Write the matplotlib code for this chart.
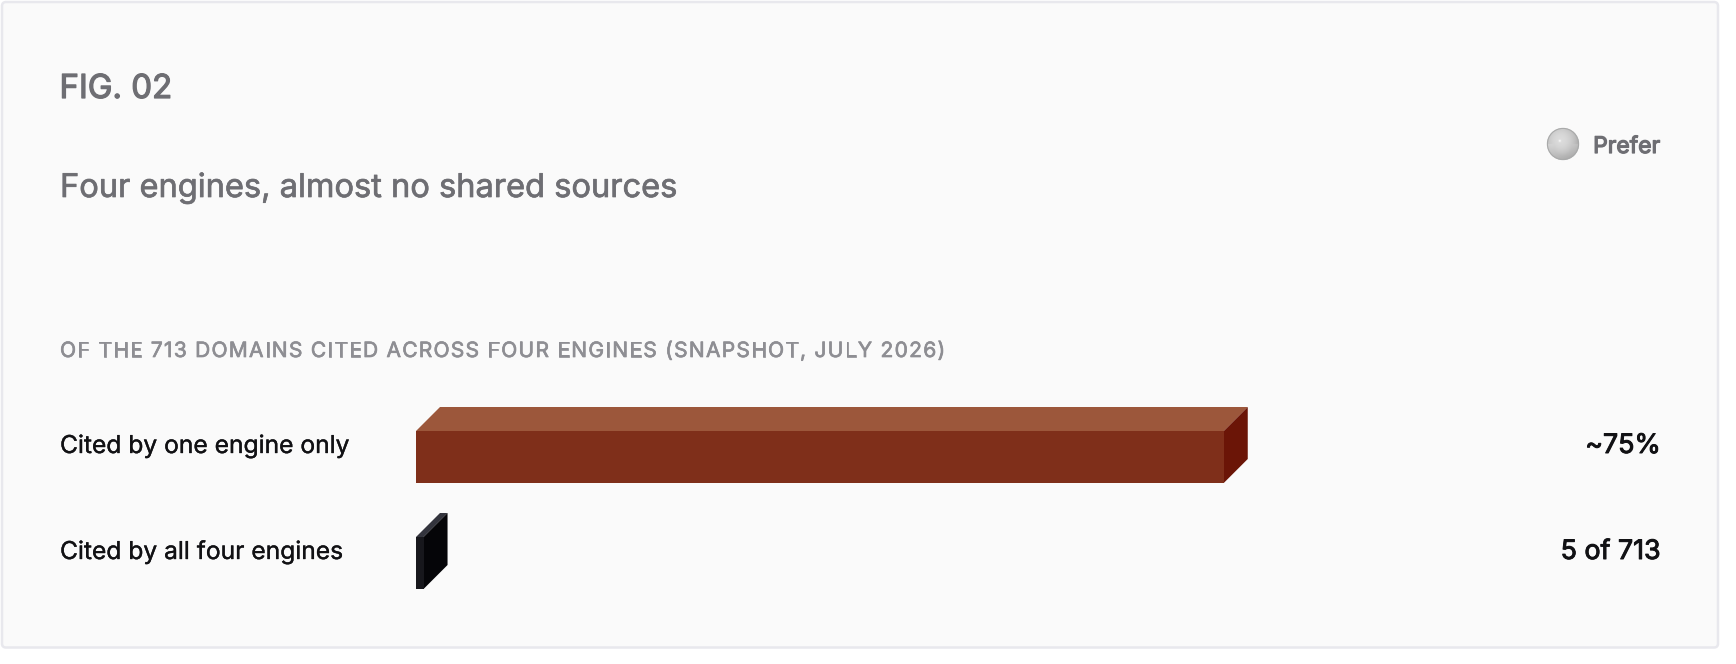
import numpy as np
import matplotlib
matplotlib.use("Agg")
import matplotlib.pyplot as plt
import matplotlib.patheffects as pe
from matplotlib.patches import FancyBboxPatch, Polygon, Circle
from matplotlib.text import Text
from matplotlib.transforms import IdentityTransform

W, H = 1736, 664

categories = ["Cited by one engine only", "Cited by all four engines"]
shares = [75, 0.7]
value_labels = ["~75%", "5 of 713"]
front_colors = ["#7f2f1a", "#17171c"]
top_colors = ["#9c573b", "#33343d"]
side_colors = ["#6b1507", "#050508"]

fig_label = "FIG. 02"
title = "Four engines, almost no shared sources"
caption = "OF THE 713 DOMAINS CITED ACROSS FOUR ENGINES (SNAPSHOT, JULY 2026)"
legend_label = "Prefer"

plt.rcParams["font.family"] = ["Inter", "DejaVu Sans"]


def px(size):
    # css px to points at dpi 100
    return size * 0.72


def medium(width, color):
    # no medium cut of the font here, thicken the regular a little
    return [pe.withStroke(linewidth=width, foreground=color)]


class SpacedText(Text):
    # one text with css style letter spacing, matplotlib has none
    spacing = 0

    def draw(self, renderer):
        s = self.get_text()
        x, y = self.get_transform().transform(self.get_position())
        for i, ch in enumerate(s):
            w = renderer.get_text_width_height_descent(s[:i + 1], self.get_fontproperties(), False)[0]
            w0 = renderer.get_text_width_height_descent(ch, self.get_fontproperties(), False)[0]
            glyph = Text(x + w - w0 + self.spacing * i, y, ch, color=self.get_color(),
                         fontproperties=self.get_fontproperties(), va="baseline",
                         transform=IdentityTransform(), path_effects=self.get_path_effects())
            glyph.set_figure(self.get_figure())
            glyph.draw(renderer)


fig = plt.figure(figsize=(W / 100, H / 100), dpi=100, facecolor="white")

# page layer works in pixels
page = fig.add_axes([0, 0, 1, 1])
page.set_xlim(0, W)
page.set_ylim(H, 0)
page.axis("off")

card = FancyBboxPatch((2, 2), 1716, 645.5, boxstyle="round,pad=0,rounding_size=4",
                      facecolor="#fafafa", edgecolor="#e8e8ed", linewidth=1.8)
page.add_patch(card)

page.text(59.5, 98, fig_label, fontsize=px(33), color="#6e6e73", va="baseline",
          path_effects=medium(0.9, "#6e6e73"))
page.text(60, 197, title, fontsize=px(32.6), color="#6e6e73", va="baseline",
          path_effects=medium(0.5, "#6e6e73"))
cap = SpacedText(60, 357, caption, fontsize=px(21), color="#8e8e93", va="baseline",
                 transform=page.transData, path_effects=medium(0.5, "#8e8e93"))
cap.spacing = 1.26
page.add_artist(cap)
page.text(1660, 153, legend_label, fontsize=px(22.9), color="#6e6e73", ha="right", va="baseline",
          path_effects=medium(0.9, "#6e6e73"))

# legend sphere
yy, xx = np.mgrid[-1:1:128j, -1:1:128j]
dist = np.hypot(xx + 0.15, yy + 0.25)
shade = np.clip(0.86 - 0.14 * dist ** 2, 0, 1)
shade = shade + 0.14 * np.clip(np.hypot(xx, yy - 0.2) - 0.55, 0, 1) * (yy > 0)
shade = shade + 0.15 * np.exp(-((xx + 0.2) ** 2 + (yy + 0.2) ** 2) / 0.004)
sphere = page.imshow(shade, cmap="gray", vmin=0, vmax=1, extent=(1547, 1579, 160, 128),
                     interpolation="bilinear", zorder=3)
sphere.set_clip_path(Circle((1563, 144), 16, transform=page.transData))
page.set_xlim(0, W)
page.set_ylim(H, 0)
page.add_patch(Circle((1563, 144), 15.6, fill=False, edgecolor="#a9aaaa", linewidth=0.8, zorder=4))

# bars in data units: x is percent, rows are 106px apart
left_px, right_px = 416, 1493
top_px, bottom_px = 400, 600
row0_px, row_gap = 457, 106
ax = fig.add_axes([left_px / W, 1 - bottom_px / H, (right_px - left_px) / W, (bottom_px - top_px) / H])
ax.set_xlim(0, 100)
ax.set_ylim((bottom_px - row0_px) / row_gap, (top_px - row0_px) / row_gap)
ax.axis("off")
ax.patch.set_alpha(0)

bar_h = 52 / row_gap
depth_x = 24 * 100 / (right_px - left_px)
depth_y = 24 / row_gap

for i, value in enumerate(shares):
    ax.barh(i, value, height=bar_h, color=front_colors[i], linewidth=0, zorder=3)
    t = i - bar_h / 2
    b = i + bar_h / 2
    ax.add_patch(Polygon([(0, t), (value, t), (value + depth_x, t - depth_y), (depth_x, t - depth_y)],
                         closed=True, facecolor=top_colors[i], linewidth=0, zorder=2, clip_on=False))
    ax.add_patch(Polygon([(value, t), (value + depth_x, t - depth_y), (value + depth_x, b - depth_y), (value, b)],
                         closed=True, facecolor=side_colors[i], linewidth=0, zorder=2, clip_on=False))
    baseline = row0_px + row_gap * i - 4
    page.text(60, baseline, categories[i], fontsize=px(24.6), color="#111114", va="baseline",
              path_effects=medium(0.25, "#111114"))
    page.text(1660.5, baseline, value_labels[i], fontsize=px(26.8), color="#111114",
              ha="right", va="baseline", path_effects=medium(0.7, "#111114"))

fig.savefig("out.png", dpi=100, facecolor="white")
